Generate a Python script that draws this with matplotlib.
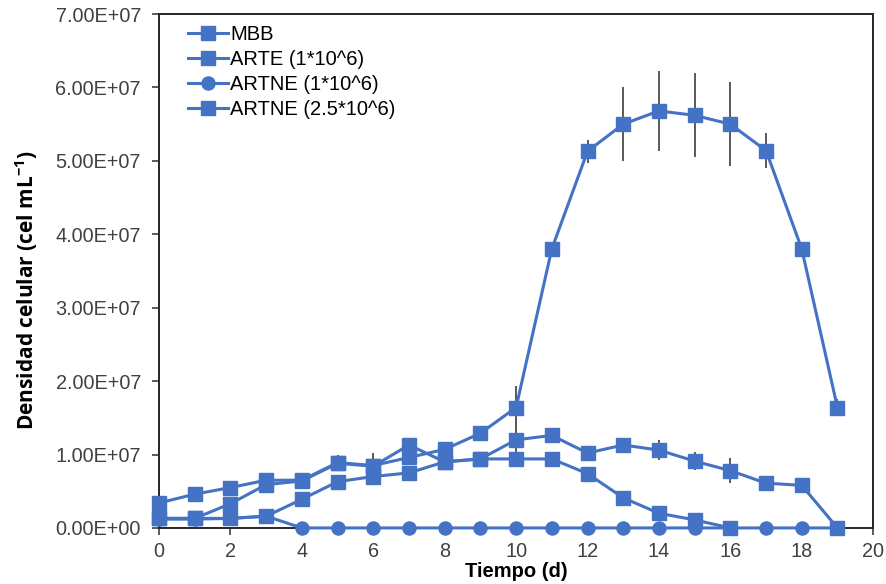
import numpy as np
import matplotlib.pyplot as plt
from matplotlib.ticker import FuncFormatter, MultipleLocator

plt.rcParams['font.family'] = ['Liberation Sans', 'DejaVu Sans']
plt.rcParams['mathtext.fontset'] = 'custom'
plt.rcParams['mathtext.rm'] = 'Open Sans'
plt.rcParams['mathtext.bf'] = 'Open Sans:bold'

# datos (cel/mL)
dias = np.arange(20)
mbb = np.array([1.3, 1.3, 3.3, 5.9, 6.4, 8.8, 8.4, 11.3, 9.0, 9.4, 12.0, 12.6,
                10.2, 11.3, 10.6, 9.1, 7.8, 6.1, 5.8, 0.0]) * 1e6
arte = np.array([1.3, 1.3, 1.3, 1.6, 3.9, 6.3, 7.0, 7.5, 9.0, 9.4, 9.4, 9.4,
                 7.4, 4.1, 2.0, 1.1, 0.0, np.nan, np.nan, np.nan]) * 1e6
artne_1 = np.array([1.2, 1.2, 1.3, 1.6, 0.0, 0.0, 0.0, 0.0, 0.0, 0.0, 0.0, 0.0,
                    0.0, 0.0, 0.0, 0.0, 0.0, 0.0, 0.0, 0.0]) * 1e6
artne_25 = np.array([3.4, 4.6, 5.5, 6.5, 6.5, 8.9, 8.5, 9.6, 10.7, 12.9, 16.4, 38.0,
                     51.3, 55.0, 56.8, 56.2, 55.0, 51.4, 38.0, 16.4]) * 1e6

# desviaciones
mbb_err = np.array([0, 0, 0, 0, 0, 0, 0, 0.3, 0, 0, 2.7, 0,
                    0, 0.4, 1.4, 1.2, 1.7, 0.3, 0.3, 0]) * 1e6
arte_err = np.zeros(20)
artne_1_err = np.zeros(20)
artne_25_err = np.array([0, 0, 0, 0, 0, 1.1, 1.7, 0, 0.8, 0.8, 2.9, 0,
                         1.6, 5.0, 5.5, 5.7, 5.7, 2.4, 0, 1.2]) * 1e6

series = [
    ('MBB', mbb, mbb_err, 's'),
    ('ARTE (1*10^6)', arte, arte_err, 's'),
    ('ARTNE (1*10^6)', artne_1, artne_1_err, 'o'),
    ('ARTNE (2.5*10^6)', artne_25, artne_25_err, 's'),
]

azul = '#4472C4'

fig = plt.figure(figsize=(8.86, 5.84), dpi=100)
ax = fig.add_axes([0.1795, 0.096, 0.806, 0.880])

for nombre, y, err, m in series:
    ax.errorbar(dias, y, yerr=err, fmt='none', ecolor='#595959',
                elinewidth=1.4, capsize=0, zorder=2, clip_on=False)
for nombre, y, err, m in series:
    ax.plot(dias, y, marker=m, color=azul, markersize=9.4, linewidth=2.2,
            markeredgecolor=azul, label=nombre, zorder=3, clip_on=False)

ax.set_xlim(0, 20)
ax.set_ylim(0, 7e7)
ax.xaxis.set_major_locator(MultipleLocator(2))
ax.yaxis.set_major_locator(MultipleLocator(1e7))
ax.yaxis.set_major_formatter(FuncFormatter(lambda v, p: '{:.2E}'.format(v)))
ax.tick_params(labelsize=14.3, length=5, width=1.2, direction='out', colors='#404040')
ax.tick_params(axis='y', pad=8)
ax.tick_params(axis='x', pad=5)
for s in ax.spines.values():
    s.set_linewidth(1.4)
    s.set_color('#262626')

ax.set_xlabel('Tiempo (d)', fontsize=14.5, fontweight='bold')
ax.xaxis.set_label_coords(0.5, -0.066)
ax.set_ylabel('Densidad celular (cel mL$^{\\mathbf{-1}}$)', fontsize=15,
              fontweight='bold', family='Open Sans')
ax.yaxis.set_label_coords(-0.167, 0.463)

ax.legend(loc='upper left', bbox_to_anchor=(0.04, 0.978), frameon=False,
          fontsize=14.5, handlelength=2.0, handletextpad=0.12, labelspacing=0.3,
          borderpad=0, borderaxespad=0, numpoints=1)

fig.savefig('out.png', dpi=100)
